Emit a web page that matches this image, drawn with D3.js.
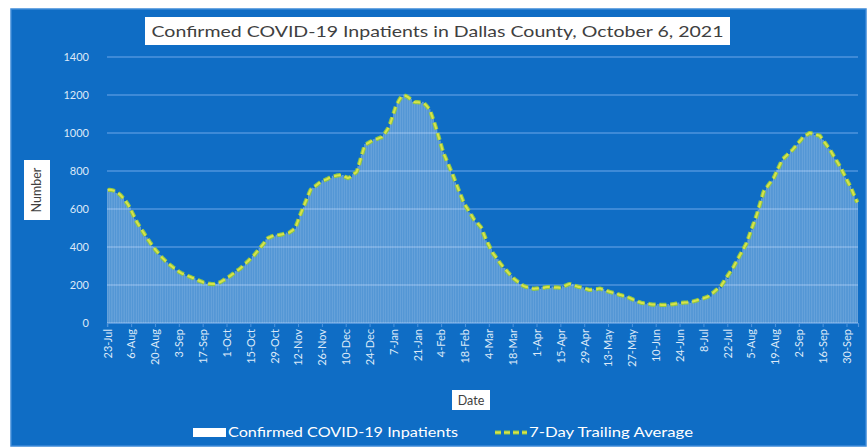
<!DOCTYPE html>
<html><head><meta charset="utf-8">
<script src="https://cdn.jsdelivr.net/npm/d3@7"></script>
<style>body{margin:0;background:#fff;} svg{display:block;font-family:Lato,'Open Sans',sans-serif;}</style>
</head><body><svg id="c" width="867" height="447"></svg>
<script>
const startDate = "2020-07-23";
const chartTitle = "Confirmed COVID-19 Inpatients in Dallas County, October 6, 2021";
const seriesNames = ["Confirmed COVID-19 Inpatients", "7-Day Trailing Average"];
const yTicks = [0,200,400,600,800,1000,1200,1400];
const xTickLabels = ["23-Jul","6-Aug","20-Aug","3-Sep","17-Sep","1-Oct","15-Oct","29-Oct","12-Nov","26-Nov","10-Dec","24-Dec","7-Jan","21-Jan","4-Feb","18-Feb","4-Mar","18-Mar","1-Apr","15-Apr","29-Apr","13-May","27-May","10-Jun","24-Jun","8-Jul","22-Jul","5-Aug","19-Aug","2-Sep","16-Sep","30-Sep"];

const inpatients = [
705,698,703,695,699,684,680, 681,662,660,641,638,615, 608,580,571,546,536, 512,507,484,479,456,451,
430,425,404,401,380,377, 360,357,339,337,321,319, 305,306,291,292,277,279,265,266, 255,258,247,251,240,243,233,
236,225,228,217,221,210,214, 206,210,203,208,202, 209,205,214,212, 224,222,235,233,
247,245,260,258,273,272,286,285, 301,302,319,319,336,337,353,354, 373,376,395,398,417,420,440,443,
455,450,462,456,465,460, 468,463,471,467,476,470, 483,481,496,496, 526,541,575, 596,609,641,652,684,696,
712,710,727,718,740,738, 751,746,759,752,768,762, 775,768,779,772,782,776, 779,766,770,759, 771,768,784,784,799,
825,845,885,905,942, 948,943,958,950,967, 970,964,977,971,983, 994,998,1022,1027, 1061,1078,1115,1132,
1160,1167,1191,1190, 1202,1190,1194, 1178,1180,1164,1167, 1166,1158,1165,1157,1164, 1149,1148,1128,1125,
1092,1075,1039,1020, 981,960,920,899, 869,857,827,815,785,772, 740,726,694,681,650,636,
612,607,583,578,554,549, 530,529,510,509, 478,465,435, 426,399,390,363, 360,339,336,314,311,290,
289,271,270,251,251,232, 233,218,219,204,206,191, 196,185,191,180,186,176, 185,178,187,180,189,182,192,185,
193,184,192,183,191,183,190,182, 194,190,202,198,209, 199,204,193,198,187,193, 183,188,177,183,172,178,
171,180,173,182,176,185, 174,179,168,173,162,167,157,162, 151,157,146,151,141,146,136,141,
129,133,121,125,113,117,106,111, 101,108,99,105,96,102,93, 101,92,100,92,99,91,99,91,
100,93,102,95,105,98,108,101, 110,103,112,104,113,106, 116,111,121,116,127,122,132,127,138,133,
147,139,161,153,176,168,191,183, 212,204,240,232,267,259,294, 302,327,335,359,367,392,400,424,
441,474,491,524,541,574, 596,634,656,694, 699,719,724,744,749,769, 780,807,818,845,856,
873,873,890,890,907,907, 918,936,939,958,960,979, 977,992,990,1004, 994,999,989,994,984,989,
969,964,944,940,919,915, 892,885,862,855,832,825, 800,790,765,755,730,720, 692,679,651,639
];

const avg7 = [
700,701,700,698,694,689,684, 676,667,657,646,634,621, 604,586,568,550,532, 517,503,489,475,461,447,
434,421,409,397,385,374, 364,353,343,334,325,316, 309,302,295,288,281,275,269,263, 259,255,251,248,244,240,237,
233,229,225,221,218,214,211, 209,207,206,205,205, 206,208,211,215, 220,226,231,237,
243,249,256,262,269,276,282,289, 297,306,315,323,332,341,349,358, 369,380,391,402,413,424,436,447,
451,455,458,460,462,463, 464,466,468,470,472,474, 479,485,492,500, 522,546,570, 592,614,636,657,679,700,
708,715,722,729,736,742, 747,751,755,759,764,768, 771,773,775,777,778,779, 776,771,767,763, 767,773,780,788,795,
820,850,880,910,937, 943,948,953,958,963, 966,969,972,976,979, 990,1003,1017,1032, 1056,1083,1110,1137,
1155,1172,1186,1195, 1197,1195,1190, 1183,1176,1169,1163, 1162,1162,1161,1161,1160, 1153,1144,1133,1121,
1097,1071,1044,1016, 986,956,925,895, 874,853,832,811,790,768, 745,722,699,677,655,632,
617,603,588,574,559,545, 535,525,515,505, 483,461,440, 422,404,386,368, 356,344,332,319,307,295,
285,276,266,256,247,237, 229,222,215,208,202,195, 192,189,187,184,182,180, 181,182,183,184,185,186,188,189,
189,188,188,187,187,187,186,186, 190,194,198,202,205, 203,200,197,194,191,189, 187,184,181,179,176,174,
175,176,177,178,180,181, 178,175,172,169,166,163,161,158, 155,153,150,147,145,142,140,137,
133,129,125,121,117,113,110,107, 105,104,103,101,100,98,97, 97,96,96,96,95,95,95,95,
96,97,98,99,101,102,104,105, 106,107,108,108,109,110, 112,115,117,120,123,126,128,131,134,137,
143,150,157,164,172,180,187,195, 208,222,236,250,263,277,290, 306,323,339,355,371,388,404,420,
445,470,495,520,545,570, 600,630,660,690, 703,715,728,740,753,765, 784,803,822,841,860,
869,877,886,894,903,911, 922,932,943,954,964,975, 981,988,994,1000, 998,995,993,990,988,985,
973,960,948,936,923,911, 896,881,866,851,836,821, 804,786,769,751,734,716, 696,675,655,635
];

const svg = d3.select("#c");
const BG = "#0f6dc5";
const GRID = "#4f94dc";
const TXT = "#dce9f8";

const parse = d3.utcParse("%Y-%m-%d");
const fmt = d3.utcFormat("%Y-%m-%d");
const d0 = parse(startDate);
const dates = d3.utcDay.range(d0, d3.utcDay.offset(d0, inpatients.length)).map(fmt);

const x = d3.scaleBand().domain(dates).range([107, 858]).paddingInner(0.08).paddingOuter(0);
const y = d3.scaleLinear().domain([0, 1400]).range([323, 57]);

// chart background
svg.append("rect").attr("x", 11).attr("y", 9).attr("width", 855).attr("height", 437)
  .attr("fill", BG).attr("stroke", "#3e8ad8").attr("stroke-width", 1.5);

// gridlines
svg.append("g").selectAll("line").data(yTicks).join("line")
  .attr("x1", 107).attr("x2", 858)
  .attr("y1", d => y(d)).attr("y2", d => y(d))
  .attr("stroke", GRID).attr("stroke-width", 1.6);

// bars
svg.append("g").selectAll("rect").data(inpatients).join("rect")
  .attr("x", (d, i) => x(dates[i]))
  .attr("width", x.bandwidth())
  .attr("y", d => y(d))
  .attr("height", d => y(0) - y(d))
  .attr("fill", "#ffffff").attr("fill-opacity", 0.36);

// 7-day line
const line = d3.line().x((d, i) => x(dates[i]) + x.step() / 2).y(d => y(d)).curve(d3.curveMonotoneX);
svg.append("path").datum(avg7).attr("d", line)
  .attr("fill", "none").attr("stroke", "#8fc744").attr("stroke-width", 4.2)
  .attr("stroke-dasharray", "7,4").attr("stroke-linecap", "butt");
svg.append("path").datum(avg7).attr("d", line)
  .attr("fill", "none").attr("stroke", "#d9e24a").attr("stroke-width", 2)
  .attr("stroke-dasharray", "7,4").attr("stroke-linecap", "butt");

// y axis
const ya = svg.append("g").attr("transform", "translate(107,0)")
  .call(d3.axisLeft(y).tickValues(yTicks).tickFormat(d3.format("d")).tickSize(0).tickPadding(18));
ya.select(".domain").remove();
ya.selectAll("text").attr("fill", TXT).style("font-size", "11px").style("font-family", "Lato,sans-serif");

// x axis
const tickDates = dates.filter((d, i) => i % 14 === 0);
const xa = svg.append("g").attr("transform", "translate(0,323)")
  .call(d3.axisBottom(x).tickValues(tickDates).tickFormat((d, i) => xTickLabels[i]).tickSize(4));
xa.select(".domain").attr("stroke", GRID).attr("stroke-width", 1.2);
xa.selectAll(".tick line").attr("stroke", GRID);
xa.selectAll("text")
  .attr("transform", "rotate(-90)")
  .attr("x", -6).attr("y", 0).attr("dy", "0.35em")
  .style("text-anchor", "end")
  .attr("fill", TXT).style("font-size", "11px").style("font-family", "Lato,sans-serif");

// title
svg.append("rect").attr("x", 145).attr("y", 17).attr("width", 585).attr("height", 28).attr("fill", "#fff");
svg.append("text").attr("x", 437.5).attr("y", 37).attr("text-anchor", "middle")
  .attr("fill", "#404040").style("font-size", "16px")
  .attr("textLength", 572).attr("lengthAdjust", "spacingAndGlyphs").text(chartTitle);

// y title
svg.append("rect").attr("x", 24).attr("y", 160).attr("width", 26).attr("height", 60).attr("fill", "#fff");
svg.append("text").attr("transform", "translate(41,190) rotate(-90)").attr("text-anchor", "middle")
  .attr("fill", "#404040").style("font-size", "12.5px").text("Number");

// x title
svg.append("rect").attr("x", 452).attr("y", 390).attr("width", 38).attr("height", 20).attr("fill", "#fff");
svg.append("text").attr("x", 471).attr("y", 404.5).attr("text-anchor", "middle")
  .attr("fill", "#404040").style("font-size", "12.5px").text("Date");

// legend
const lg = svg.append("g");
lg.append("rect").attr("x", 193).attr("y", 428).attr("width", 33).attr("height", 9).attr("fill", "#fff");
lg.append("text").attr("x", 228).attr("y", 437).attr("fill", "#fff").style("font-size", "12.5px")
  .attr("textLength", 230).attr("lengthAdjust", "spacingAndGlyphs").text(seriesNames[0]);
lg.append("line").attr("x1", 495).attr("x2", 527).attr("y1", 432.5).attr("y2", 432.5)
  .attr("stroke", "#8fc744").attr("stroke-width", 4).attr("stroke-dasharray", "6,3");
lg.append("line").attr("x1", 495).attr("x2", 527).attr("y1", 432.5).attr("y2", 432.5)
  .attr("stroke", "#d9e24a").attr("stroke-width", 2).attr("stroke-dasharray", "6,3");
lg.append("text").attr("x", 529).attr("y", 437).attr("fill", "#fff").style("font-size", "12.5px")
  .attr("textLength", 164).attr("lengthAdjust", "spacingAndGlyphs").text(seriesNames[1]);
</script>
</body></html>
